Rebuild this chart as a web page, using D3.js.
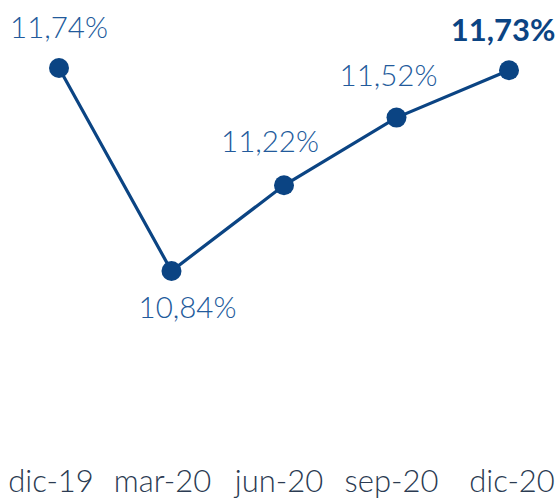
<!DOCTYPE html>
<html><head><meta charset="utf-8">
<script src="https://cdn.jsdelivr.net/npm/d3@7"></script>
<style>body{margin:0;background:#fff}svg{display:block}</style>
</head><body>
<script>
const categories = ["dic-19","mar-20","jun-20","sep-20","dic-20"];
const values = [11.74,10.84,11.22,11.52,11.73];
const valueLabels = ["11,74%","10,84%","11,22%","11,52%","11,73%"];

const W=559,H=503;
const svg=d3.select("body").append("svg").attr("width",W).attr("height",H);
const x=d3.scalePoint().domain(categories).range([59,509]);
const y=d3.scaleLinear().domain([10.84,11.74]).range([271,68]);

const lineColor="#0b4483", labelColor="#225a9b";
svg.append("path").datum(values)
  .attr("fill","none").attr("stroke",lineColor).attr("stroke-width",3.2)
  .attr("d",d3.line().x((d,i)=>x(categories[i])).y(d=>y(d)));
svg.selectAll("circle").data(values).join("circle")
  .attr("cx",(d,i)=>x(categories[i])).attr("cy",d=>y(d)).attr("r",10).attr("fill",lineColor);

const offs=[[0,-30],[16,47],[-14,-33],[-8,-32],[-6,-29]];
svg.selectAll("text.v").data(values).join("text").attr("class","v")
  .attr("x",(d,i)=>x(categories[i])+offs[i][0]).attr("y",(d,i)=>y(d)+offs[i][1])
  .attr("text-anchor","middle").attr("font-family","Lato")
  .attr("font-size",(d,i)=>i===4?31:29.5)
  .attr("font-weight",(d,i)=>i===4?700:300)
  .attr("fill",(d,i)=>i===4?lineColor:labelColor)
  .text((d,i)=>valueLabels[i]);

const ax=svg.append("g").attr("transform","translate(0,492)")
  .call(d3.axisBottom(x).tickSize(0).tickPadding(0));
ax.select(".domain").remove();
ax.selectAll("text").attr("font-family","Lato").attr("font-size",31).attr("font-weight",300)
  .attr("fill","#2b3b52").attr("dy","0");
ax.selectAll(".tick").attr("transform",(d,i)=>`translate(${x(d)+[-8,-9,-5,-5,3][i]},0)`);
</script>
</body></html>
